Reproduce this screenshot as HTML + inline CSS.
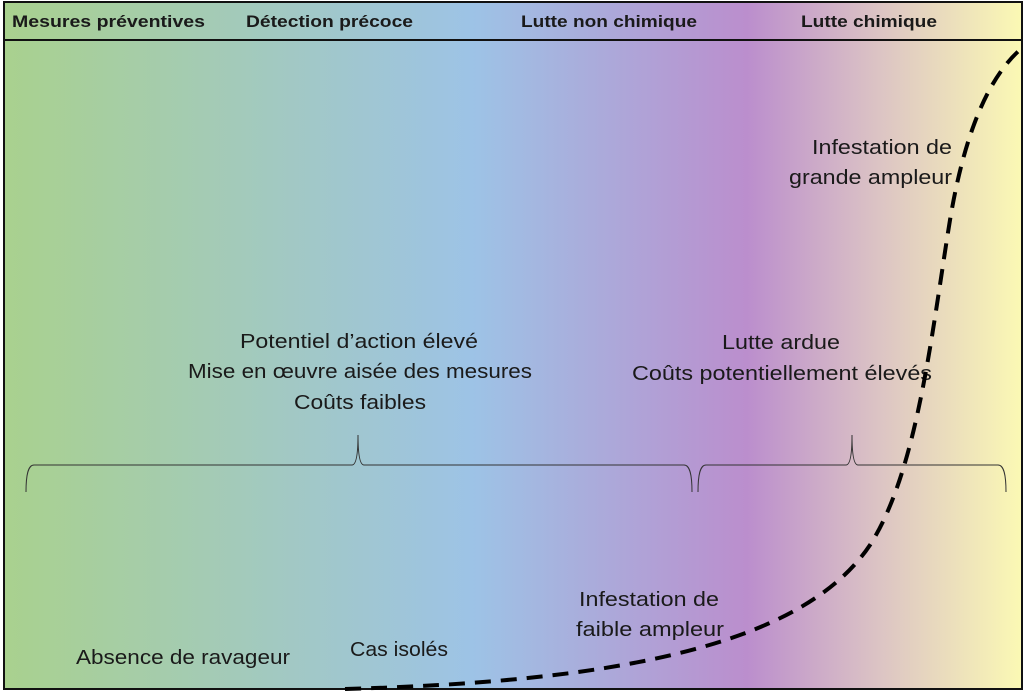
<!DOCTYPE html>
<html><head><meta charset="utf-8"><style>
html,body{margin:0;padding:0;background:#fff;}
svg{display:block;}
text{font-family:"Liberation Sans",sans-serif;fill:#1a1a1a;}
</style></head><body>
<svg width="1024" height="691" viewBox="0 0 1024 691" xmlns="http://www.w3.org/2000/svg">
<defs>
<linearGradient id="g" x1="0" y1="0" x2="1" y2="0">
<stop offset="0" stop-color="#a9d18e"/>
<stop offset="0.46" stop-color="#9dc3e6"/>
<stop offset="0.73" stop-color="#bb8ecd"/>
<stop offset="0.86" stop-color="#dcc4c4"/>
<stop offset="1" stop-color="#fbf9b4"/>
</linearGradient>
</defs>
<rect x="4" y="2" width="1018" height="687" fill="url(#g)" stroke="#111" stroke-width="2"/>
<line x1="4" y1="40" x2="1022" y2="40" stroke="#111" stroke-width="2"/>
<g font-weight="bold" font-size="17" lengthAdjust="spacingAndGlyphs">
<text x="12" y="27" textLength="193" lengthAdjust="spacingAndGlyphs">Mesures préventives</text>
<text x="246" y="27" textLength="167" lengthAdjust="spacingAndGlyphs">Détection précoce</text>
<text x="521" y="27" textLength="176" lengthAdjust="spacingAndGlyphs">Lutte non chimique</text>
<text x="801" y="27" textLength="136" lengthAdjust="spacingAndGlyphs">Lutte chimique</text>
</g>
<g font-size="20">
<text x="240" y="348" textLength="238" lengthAdjust="spacingAndGlyphs">Potentiel d’action élevé</text>
<text x="188" y="378" textLength="344" lengthAdjust="spacingAndGlyphs">Mise en œuvre aisée des mesures</text>
<text x="294" y="409" textLength="132" lengthAdjust="spacingAndGlyphs">Coûts faibles</text>
<text x="722" y="349" textLength="118" lengthAdjust="spacingAndGlyphs">Lutte ardue</text>
<text x="632" y="380" textLength="300" lengthAdjust="spacingAndGlyphs">Coûts potentiellement élevés</text>
<text x="812" y="154" textLength="140" lengthAdjust="spacingAndGlyphs">Infestation de</text>
<text x="789" y="184" textLength="163" lengthAdjust="spacingAndGlyphs">grande ampleur</text>
<text x="579" y="606" textLength="140" lengthAdjust="spacingAndGlyphs">Infestation de</text>
<text x="576" y="636" textLength="148" lengthAdjust="spacingAndGlyphs">faible ampleur</text>
<text x="76" y="664" textLength="214" lengthAdjust="spacingAndGlyphs">Absence de ravageur</text>
<text x="350" y="656" textLength="98" lengthAdjust="spacingAndGlyphs">Cas isolés</text>
</g>
<g fill="none" stroke="#333" stroke-width="1">
<path d="M26,492 C26,475 28,465 34,465 L352,465 C356,465 358,455 358,435 C358,455 360,465 364,465 L684,465 C690,465 692,475 692,492"/>
<path d="M698,492 C698,475 700,465 706,465 L846,465 C850,465 852,455 852,435 C852,455 854,465 858,465 L998,465 C1004,465 1006,475 1006,492"/>
</g>
<path d="M345,689 C600,682 800,650 870,545 C918,470 932,330 950,220 C965,130 990,75 1022,48" fill="none" stroke="#000" stroke-width="4" stroke-dasharray="16,10"/>
</svg>
</body></html>
